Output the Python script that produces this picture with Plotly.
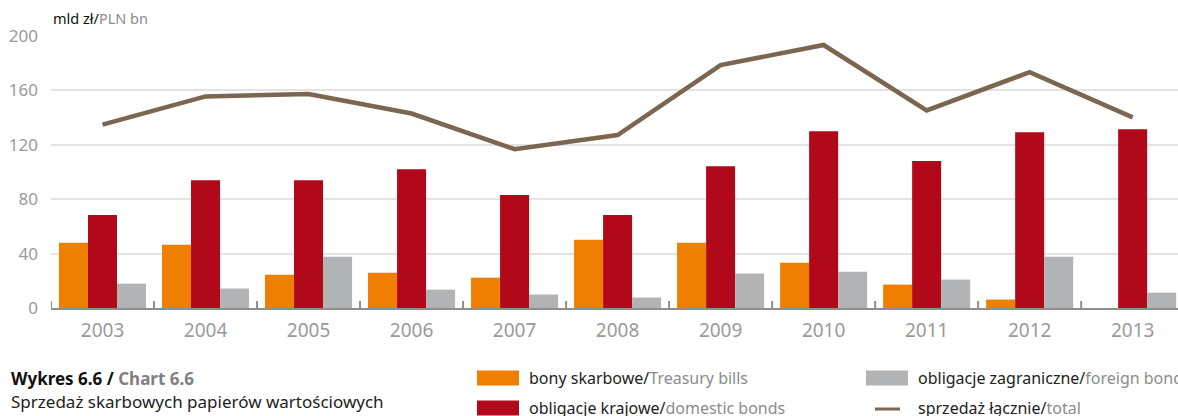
import plotly.graph_objects as go

# Sprzedaż skarbowych papierów wartościowych, mld zł
years = ["2003", "2004", "2005", "2006", "2007", "2008", "2009", "2010", "2011", "2012", "2013"]
treasury_bills = [48.0, 46.5, 24.5, 26.0, 22.3, 50.1, 48.0, 33.3, 17.2, 6.2, 0.0]
domestic_bonds = [68.4, 94.0, 94.0, 102.0, 83.0, 68.4, 104.3, 130.0, 108.0, 129.2, 131.4]
foreign_bonds = [17.9, 14.3, 37.7, 13.5, 9.9, 7.7, 25.3, 26.7, 20.9, 37.7, 11.3]
total_sales = [134.8, 155.6, 157.4, 143.0, 116.8, 127.2, 178.6, 193.4, 145.3, 173.4, 140.2]
y_ticks = [0, 40, 80, 120, 160, 200]

ORANGE = "#EE7F00"
RED = "#B2091A"
GREY = "#B2B3B4"
BROWN = "#7B6650"
LABEL_GREY = "#9A9A9A"
AXIS_GREY = "#8E8E8E"
FONT = "Noto Sans"

W, H = 1178, 416
ML, MR, MT, MB = 51, 0, 36, 108
PW, PH = W - ML - MR, H - MT - MB


def px_x(px):
    return (px - ML) / PW


def px_y(py):
    return (H - MB - py) / PH


fig = go.Figure()
fig.add_trace(go.Bar(x=years, y=treasury_bills, marker_color=ORANGE, marker_line_width=0,
                     name="bony skarbowe"))
fig.add_trace(go.Bar(x=years, y=domestic_bonds, marker_color=RED, marker_line_width=0,
                     name="obligacje krajowe"))
fig.add_trace(go.Bar(x=years, y=foreign_bonds, marker_color=GREY, marker_line_width=0,
                     name="obligacje zagraniczne"))
fig.add_trace(go.Scatter(x=years, y=total_sales, mode="lines",
                         line=dict(color=BROWN, width=4.5), name="sprzedaż łącznie"))

shapes = []
annotations = []

# upward tick marks on the category boundaries
for i in range(len(years)):
    shapes.append(dict(type="line", xref="x", yref="paper",
                       x0=i - 0.5, x1=i - 0.5, y0=0, y1=7 / PH,
                       line=dict(color=AXIS_GREY, width=2), layer="above"))

# legend drawn as swatches + two-language labels
legend_items = [
    (477, 378, "rect", ORANGE, "bony skarbowe/", "Treasury bills"),
    (477, 408, "rect", RED, "obligacje krajowe/", "domestic bonds"),
    (866, 378, "rect", GREY, "obligacje zagraniczne/", "foreign bonds"),
    (866, 408, "line", BROWN, "sprzedaż łącznie/", "total"),
]
for x0, yc, kind, color, pl, en in legend_items:
    if kind == "rect":
        shapes.append(dict(type="rect", xref="paper", yref="paper",
                           x0=px_x(x0), x1=px_x(x0 + 42), y0=px_y(yc + 7.5), y1=px_y(yc - 7.5),
                           fillcolor=color, line_width=0, layer="above"))
    else:
        shapes.append(dict(type="line", xref="paper", yref="paper",
                           x0=px_x(x0 + 9), x1=px_x(x0 + 34), y0=px_y(yc + 1), y1=px_y(yc + 1),
                           line=dict(color=color, width=3)))
    annotations.append(dict(xref="paper", yref="paper", x=px_x(x0 + 50), y=px_y(yc),
                            xanchor="left", yanchor="middle", showarrow=False,
                            text=f"<span style='color:#222'>{pl}</span>"
                                 f"<span style='color:#8C8C8C'>{en}</span>",
                            font=dict(family=FONT, size=16)))

# unit label
annotations.append(dict(xref="paper", yref="paper", x=px_x(51), y=px_y(18),
                        xanchor="left", yanchor="middle", showarrow=False,
                        text="<span style='color:#111'>mld zł/</span>"
                             "<span style='color:#8C8C8C'>PLN bn</span>",
                        font=dict(family=FONT, size=14.5)))

# caption
annotations.append(dict(xref="paper", yref="paper", x=px_x(9), y=px_y(378),
                        xanchor="left", yanchor="middle", showarrow=False,
                        text="<b><span style='color:#111'>Wykres 6.6 / </span>"
                             "<span style='color:#808080'>Chart 6.6</span></b>",
                        font=dict(family=FONT, size=17)))
annotations.append(dict(xref="paper", yref="paper", x=px_x(9), y=px_y(400),
                        xanchor="left", yanchor="top", showarrow=False,
                        text="Sprzedaż skarbowych papierów wartościowych<br>"
                             "na rynku krajowym i zagranicznym",
                        align="left", yshift=12,
                        font=dict(family=FONT, size=17, color="#222")))

fig.update_layout(
    width=W, height=H,
    margin=dict(l=ML, r=MR, t=MT, b=MB, pad=0),
    paper_bgcolor="white", plot_bgcolor="white",
    barmode="group", bargap=0.155, bargroupgap=0,
    showlegend=False,
    shapes=shapes, annotations=annotations,
    font=dict(family=FONT),
    xaxis=dict(
        type="category", range=[-0.5, 10.44],
        showline=True, linecolor=AXIS_GREY, linewidth=2,
        ticks="",
        tickfont=dict(family=FONT, size=19, color=LABEL_GREY),
        ticklabelstandoff=4,
        showgrid=False, fixedrange=True,
    ),
    yaxis=dict(
        range=[0, 200], tickvals=y_ticks,
        showgrid=True, gridcolor="#E3E3E3", gridwidth=2,
        zeroline=False, showline=False,
        tickfont=dict(family=FONT, size=17, color=LABEL_GREY),
        ticklabelstandoff=12, fixedrange=True,
    ),
)

fig.write_html("out.html")
